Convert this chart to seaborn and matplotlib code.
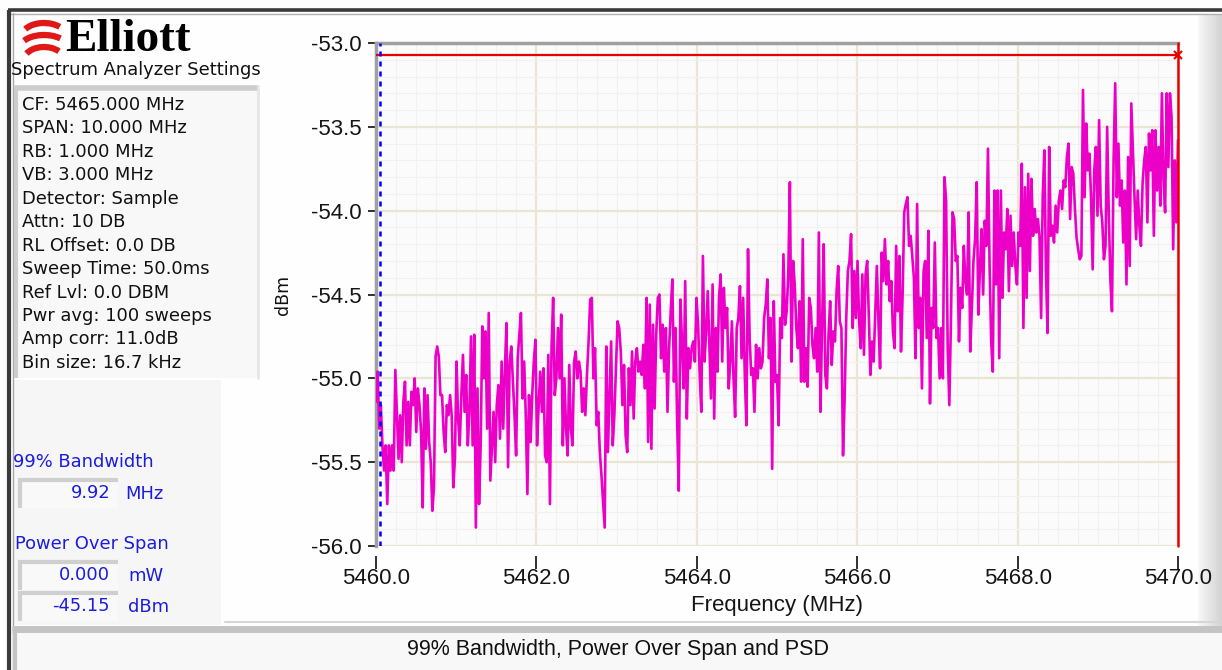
import numpy as np
import matplotlib
matplotlib.use("Agg")
import matplotlib.pyplot as plt
import matplotlib.patches as mpatches
import seaborn as sns

# ---------------- data ----------------
f_start, f_stop = 5460.0, 5470.0
psd_a = [-55.14, -54.96, -55.30, -55.16, -55.40, -55.55, -55.40, -55.75, -55.40, -55.55,
         -55.40, -55.55, -54.95, -55.22, -55.48, -55.22, -55.50, -55.14, -55.02, -55.40,
         -55.14, -55.40, -55.08, -55.16, -55.00, -55.32, -55.06, -55.16, -55.32, -55.77,
         -55.06, -55.42, -55.10, -55.38, -55.50, -55.79, -55.65, -54.87, -54.81, -54.87,
         -55.10, -55.10, -55.32, -55.44, -55.16, -55.22, -55.10, -55.22, -55.65, -55.48,
         -54.90, -55.24, -55.40, -55.10, -54.86, -55.20, -54.98, -55.40, -55.20, -54.75,
         -55.40, -54.74, -55.89, -55.06, -55.75, -55.40, -54.69, -55.00, -54.72, -55.30,
         -54.61, -55.61, -55.40, -55.20, -55.50, -55.16, -55.04, -55.36, -54.90, -55.30,
         -54.96, -54.67, -55.53, -54.90, -54.81, -55.02, -55.22, -55.46, -54.88, -54.74,
         -54.61, -55.12, -54.90, -55.22, -55.69, -55.10, -55.38, -55.10, -54.90, -54.77,
         -55.40, -55.16, -54.96, -55.20, -54.94, -55.46, -55.50, -54.86, -55.75, -54.82,
         -54.52, -55.10, -55.00, -54.70, -55.00, -54.62, -55.40, -55.00, -55.30, -55.46,
         -54.92, -55.30, -55.40, -54.90, -54.84, -55.00, -54.90, -54.96, -55.20, -55.06,
         -55.22, -54.98, -54.78, -54.53, -54.52, -55.00, -54.82, -55.28]
psd_b = [-55.20, -55.44, -55.58, -55.73, -55.89, -54.81, -55.44, -55.10, -54.78, -55.40,
         -55.22, -54.94, -54.66, -54.70, -54.84, -55.16, -54.92, -55.34, -55.44, -54.94,
         -55.16, -54.84, -55.24, -54.90, -54.82, -54.96, -54.90, -54.98, -54.80, -55.06,
         -54.52, -55.38, -54.56, -55.42, -54.68, -55.18, -54.74, -54.52, -54.50, -54.88,
         -54.68, -54.96, -54.70, -55.20, -54.82, -54.60, -54.41, -55.02, -54.70, -55.26,
         -55.67, -54.53, -54.78, -55.06, -54.42, -55.24, -54.82, -54.94, -54.82, -54.78,
         -54.90, -54.52, -54.68, -54.98, -55.20, -54.27, -54.90, -54.72, -54.48, -54.80,
         -55.12, -54.44, -55.24, -54.70, -54.96, -54.52, -54.38, -54.90, -54.46, -54.70,
         -54.58, -55.06, -54.90, -54.66, -55.00, -55.23, -54.70, -54.64, -54.45, -54.88,
         -54.52, -54.98, -55.28, -54.23, -54.76, -54.98, -54.94, -55.20, -54.80, -55.00,
         -54.82, -54.94, -54.90, -54.64, -54.56, -54.41, -54.88, -54.64, -55.54, -54.54,
         -55.02, -54.98, -55.28, -54.64, -54.76, -54.26, -54.68, -54.60, -54.38, -53.83,
         -54.90, -54.30, -54.44, -54.70, -54.82, -54.54, -55.02, -54.17]
psd_c = [-55.02, -54.82, -55.05, -54.52, -54.58, -54.80, -54.88, -54.70, -54.96, -54.13,
         -55.20, -54.68, -54.20, -54.98, -55.06, -54.74, -54.54, -54.92, -54.72, -54.78,
         -54.48, -54.33, -54.66, -54.70, -55.46, -55.12, -54.64, -54.36, -54.30, -54.14,
         -54.70, -54.36, -54.64, -54.30, -54.66, -54.82, -54.38, -54.86, -54.38, -54.30,
         -54.62, -54.98, -54.78, -54.90, -54.62, -54.33, -54.66, -54.94, -54.25, -54.42,
         -54.17, -54.44, -54.30, -54.54, -54.42, -54.72, -54.82, -54.21, -54.60, -54.27,
         -54.84, -54.50, -54.01, -53.96, -53.92, -54.21, -54.15, -54.27, -54.40, -54.88,
         -53.96, -54.70, -54.52, -55.06, -54.36, -54.30, -54.76, -54.12, -55.15, -54.58,
         -54.70, -54.19, -54.76, -54.70, -55.00, -54.70, -55.00, -53.80, -53.94, -54.82,
         -55.16, -54.66, -54.01, -54.05, -54.30, -54.27, -54.78, -54.46, -54.58, -54.21,
         -54.42, -54.50, -54.01, -54.84, -54.58, -54.30, -54.17, -53.83, -54.62, -54.35,
         -54.11, -54.50, -54.06, -54.21, -53.63, -54.33, -54.78, -54.96, -53.88, -54.44,
         -53.88, -54.88, -53.88, -54.52, -54.13, -54.23, -53.99, -54.48, -54.03]
psd_d = [-54.33, -54.13, -54.33, -54.44, -54.13, -54.21, -53.72, -54.70, -53.86, -54.52,
         -53.78, -54.36, -53.81, -54.15, -53.99, -54.13, -54.05, -54.15, -54.64, -53.92,
         -53.64, -54.36, -54.73, -53.62, -54.15, -54.09, -54.19, -53.97, -54.13, -53.94,
         -53.88, -53.99, -53.82, -53.86, -53.68, -53.60, -54.05, -53.74, -53.78, -53.99,
         -54.16, -54.23, -54.29, -54.27, -53.28, -53.92, -53.48, -53.76, -53.66, -53.92,
         -54.35, -53.76, -53.62, -54.03, -53.46, -53.97, -54.07, -54.29, -54.21, -53.50,
         -54.01, -54.41, -54.60, -53.70, -53.24, -53.92, -53.60, -53.97, -53.82, -54.19,
         -53.88, -54.44, -53.68, -54.33, -53.36, -53.64, -53.92, -54.17, -53.88, -54.09,
         -54.21, -53.84, -53.70, -53.62, -54.07, -53.54, -53.76, -53.52, -54.15, -53.52,
         -53.88, -53.62, -53.97, -53.30, -53.82, -54.01, -53.30, -53.74, -53.30, -53.44,
         -54.23, -53.70, -54.07, -53.58]
psd = np.array(psd_a + psd_b + psd_c + psd_d)
freq = np.linspace(f_start, f_stop, len(psd))

x_ticks = [5460.0, 5462.0, 5464.0, 5466.0, 5468.0, 5470.0]
y_ticks = [-56.0, -55.5, -55.0, -54.5, -54.0, -53.5, -53.0]
ref_level = -53.07          # red horizontal marker line
marker_left = 5460.05       # blue dashed marker
marker_right = 5470.0       # red vertical marker

settings = ["CF: 5465.000 MHz", "SPAN: 10.000 MHz", "RB: 1.000 MHz", "VB: 3.000 MHz",
            "Detector: Sample", "Attn: 10 DB", "RL Offset: 0.0 DB", "Sweep Time: 50.0ms",
            "Ref Lvl: 0.0 DBM", "Pwr avg: 100 sweeps", "Amp corr: 11.0dB", "Bin size: 16.7 kHz"]
bw_value, bw_unit = "9.92", "MHz"
pwr_values = [("0.000", "mW"), ("-45.15", "dBm")]

# ---------------- figure ----------------
sns.set_style("white")
plt.rcParams['font.family'] = ['DejaVu Sans']
W, H = 1222, 670
fig = plt.figure(figsize=(W / 100, H / 100), dpi=100, facecolor='#fefefe')

bg = fig.add_axes([0, 0, 1, 1], zorder=0)
bg.set_xlim(0, W)
bg.set_ylim(H, 0)
bg.axis('off')

# window borders
bg.plot([8, W], [10, 10], color='#3a3a3a', lw=2.6, solid_capstyle='butt')
bg.plot([8, W], [13.5, 13.5], color='#b0b0b0', lw=1.0)
bg.plot([9, 9], [10, H], color='#3a3a3a', lw=3, solid_capstyle='butt')
bg.plot([12.5, 12.5], [13, H], color='#a8a8a8', lw=1.0)

# right gradient strip
grad = np.linspace(0.97, 0.83, 30).reshape(1, -1)
bg.imshow(np.dstack([grad, grad, grad]), extent=(1198, W, H, 14), aspect='auto', zorder=0)

# left panel background
bg.add_patch(mpatches.Rectangle((13, 380), 208, 245, facecolor='#f6f6f6', edgecolor='none'))
# settings box
bg.add_patch(mpatches.Rectangle((14, 86), 244, 292, facecolor='#f8f8f8', edgecolor='none'))
bg.plot([14, 258], [87.5, 87.5], color='#cdcdcd', lw=4, solid_capstyle='butt')
bg.plot([15.5, 15.5], [86, 378], color='#cdcdcd', lw=3, solid_capstyle='butt')
bg.plot([258, 258], [86, 378], color='#e6e6e6', lw=2)
fs_panel = 12.9
for i, s in enumerate(settings):
    bg.text(22, 105 + i * 23.45, s, fontsize=fs_panel, color='#111111', va='center', ha='left')

# logo
for k, (cy, w) in enumerate([(26, 44), (38, 48), (50, 40)]):
    bg.add_patch(mpatches.Arc((44, cy + 10), w, 26, theta1=200, theta2=330,
                              color='#e01818', lw=4.5))
bg.text(65, 51, "Elliott", fontsize=34, fontweight='bold', family='Liberation Serif',
        color='#000000', va='baseline', ha='left')
bg.text(11, 70, "Spectrum Analyzer Settings", fontsize=fs_panel, color='#111111',
        va='center', ha='left')

# bandwidth / power panel
blue = '#1c1ce0'
bg.text(13, 462, "99% Bandwidth", fontsize=fs_panel, color=blue, va='center', ha='left')
bg.text(15, 544, "Power Over Span", fontsize=fs_panel, color=blue, va='center', ha='left')
boxes = [(478, bw_value, bw_unit, 125)] + [(560 + 31 * i, v, u, 128) for i, (v, u) in enumerate(pwr_values)]
for top, val, unit, ux in boxes:
    bg.add_patch(mpatches.Rectangle((18, top), 100, 30, facecolor='#f9f9f9', edgecolor='none'))
    bg.plot([18, 118], [top + 1.5, top + 1.5], color='#cfcfcf', lw=3, solid_capstyle='butt')
    bg.plot([19.5, 19.5], [top, top + 30], color='#cfcfcf', lw=3, solid_capstyle='butt')
    bg.text(110, top + 15, val, fontsize=fs_panel, color=blue, va='center', ha='right')
    bg.text(ux, top + 16, unit, fontsize=fs_panel, color=blue, va='center', ha='left')

# status bar
bg.plot([225, W], [622, 622], color='#d6d6d6', lw=1.5)
bg.add_patch(mpatches.Rectangle((13, 630), W - 13, 40, facecolor='#f8f8f8', edgecolor='none'))
bg.plot([12, W], [628.5, 628.5], color='#c4c4c4', lw=5, solid_capstyle='butt')
bg.plot([15, 15], [628, H], color='#c4c4c4', lw=3, solid_capstyle='butt')
bg.text(618, 650, "99% Bandwidth, Power Over Span and PSD", fontsize=15.5,
        family='Liberation Sans', color='#111111', va='center', ha='center')

# ---------------- plot area ----------------
L, R, T, B = 376, 1178, 43, 546
ax = fig.add_axes([L / W, 1 - B / H, (R - L) / W, (B - T) / H], zorder=2)
ax.set_facecolor('#fbfbfb')
for side in ['right', 'bottom']:
    ax.spines[side].set_visible(False)
ax.spines['bottom'].set_position(('outward', 7))
ax.spines['left'].set_color('#a0a0a0')
ax.spines['left'].set_linewidth(2.5)
ax.spines['top'].set_color('#a0a0a0')
ax.spines['top'].set_linewidth(2.5)

sns.lineplot(x=freq, y=psd, ax=ax, color='#ec00c8', linewidth=1.9,
             estimator=None, sort=False, zorder=3)

ax.axhline(ref_level, color='#e80000', lw=1.6, zorder=4)
ax.plot([f_stop], [ref_level], marker='x', color='#e80000', ms=6, mew=1.5, zorder=5, clip_on=False)
ax.axvline(marker_right, color='#e80000', lw=1.8, zorder=4, clip_on=False)
ax.axvline(marker_left, color='#0000ff', lw=1.8, ls=(0, (2, 2)), zorder=4)

ax.set_xlim(f_start, f_stop)
ax.set_ylim(y_ticks[0], y_ticks[-1])
ax.set_xticks(x_ticks)
ax.set_yticks(y_ticks)
ax.set_xticklabels([f"{v:.1f}" for v in x_ticks])
ax.set_yticklabels([f"{v:.1f}" for v in y_ticks])
ax.set_xticks(np.arange(f_start, f_stop + 1e-6, 0.25), minor=True)
ax.set_yticks(np.arange(-56.0, -52.99, 0.1), minor=True)

ax.grid(which='major', color='#ebe6d4', lw=1.6, zorder=1)
ax.grid(which='minor', color='#f1f1f1', lw=0.8, zorder=0)
ax.set_axisbelow(True)

ax.tick_params(axis='both', which='major', labelsize=16, labelcolor='#151515',
               labelfontfamily='Liberation Sans')
ax.tick_params(axis='x', which='major', direction='out', length=9, width=1.3,
               color='#202020', pad=0, bottom=True)
ax.tick_params(axis='y', which='major', direction='out', length=6, width=1.3,
               color='#202020', pad=4, left=True)
ax.tick_params(which='minor', length=0)

ax.set_xlabel("Frequency (MHz)", family='Liberation Sans', fontsize=16, color='#151515', labelpad=4)
ax.set_ylabel("dBm", fontsize=12.5, color='#111111', labelpad=14)

fig.savefig("out.png", dpi=100, facecolor=fig.get_facecolor())
